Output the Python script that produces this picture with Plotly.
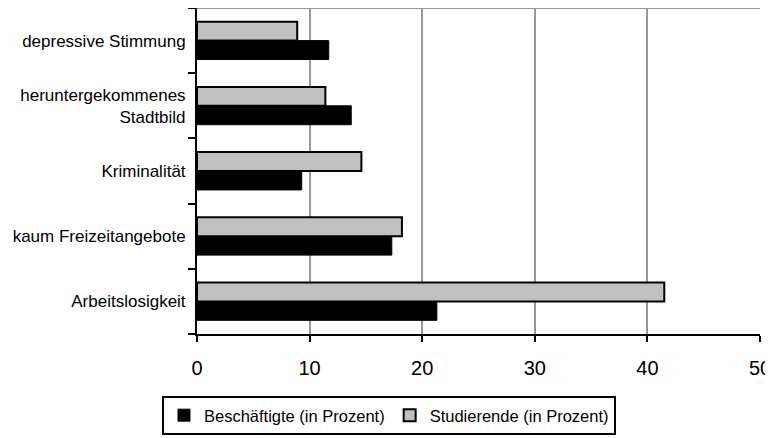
import plotly.graph_objects as go

categories = ["Arbeitslosigkeit", "kaum Freizeitangebote", "Kriminalität",
              "heruntergekommenes<br>Stadtbild", "depressive Stimmung"]
beschaeftigte = [21.3, 17.3, 9.3, 13.7, 11.7]
studierende = [41.5, 18.2, 14.6, 11.4, 8.9]
x_ticks = [0, 10, 20, 30, 40, 50]

fig = go.Figure()
fig.add_trace(go.Bar(
    y=categories, x=beschaeftigte, orientation="h",
    name="Beschäftigte (in Prozent)",
    marker=dict(color="#000000", line=dict(color="#000000", width=1)),
))
fig.add_trace(go.Bar(
    y=categories, x=studierende, orientation="h",
    name="Studierende (in Prozent)",
    marker=dict(color="#C0C0C0", line=dict(color="#000000", width=2)),
))

fig.update_layout(
    width=773, height=438,
    margin=dict(l=189, r=21, t=0, b=112, autoexpand=False),
    barmode="group", bargap=0.42, bargroupgap=0,
    plot_bgcolor="white", paper_bgcolor="white",
    font=dict(family="Liberation Sans", color="#000000"),
    showlegend=True,
    legend=dict(
        orientation="h", x=0.341, xanchor="center", y=-0.19, yanchor="top",
        bordercolor="#000000", borderwidth=2, font=dict(size=16.5),
        itemwidth=30, traceorder="normal",
    ),
    xaxis=dict(
        range=[0, 50], tickvals=x_ticks, ticktext=[str(v) for v in x_ticks],
        showgrid=True, gridcolor="#999999", gridwidth=2,
        showline=True, linecolor="#000000", linewidth=2,
        ticks="outside", ticklen=6, tickwidth=2, tickcolor="#000000",
        tickfont=dict(size=20), zeroline=False, automargin=False,
        ticklabelstandoff=9,
    ),
    yaxis=dict(
        categoryorder="array", categoryarray=categories,
        showline=True, linecolor="#000000", linewidth=2,
        ticks="outside", ticklen=7, tickwidth=2, tickcolor="#000000",
        tickson="boundaries", showgrid=False, automargin=False,
        tickfont=dict(size=17), ticklabelstandoff=6,
    ),
    shapes=[dict(type="line", xref="paper", yref="paper", x0=0, x1=1, y0=1, y1=1,
                 line=dict(color="#999999", width=2))],
)

fig.write_html("out.html")
